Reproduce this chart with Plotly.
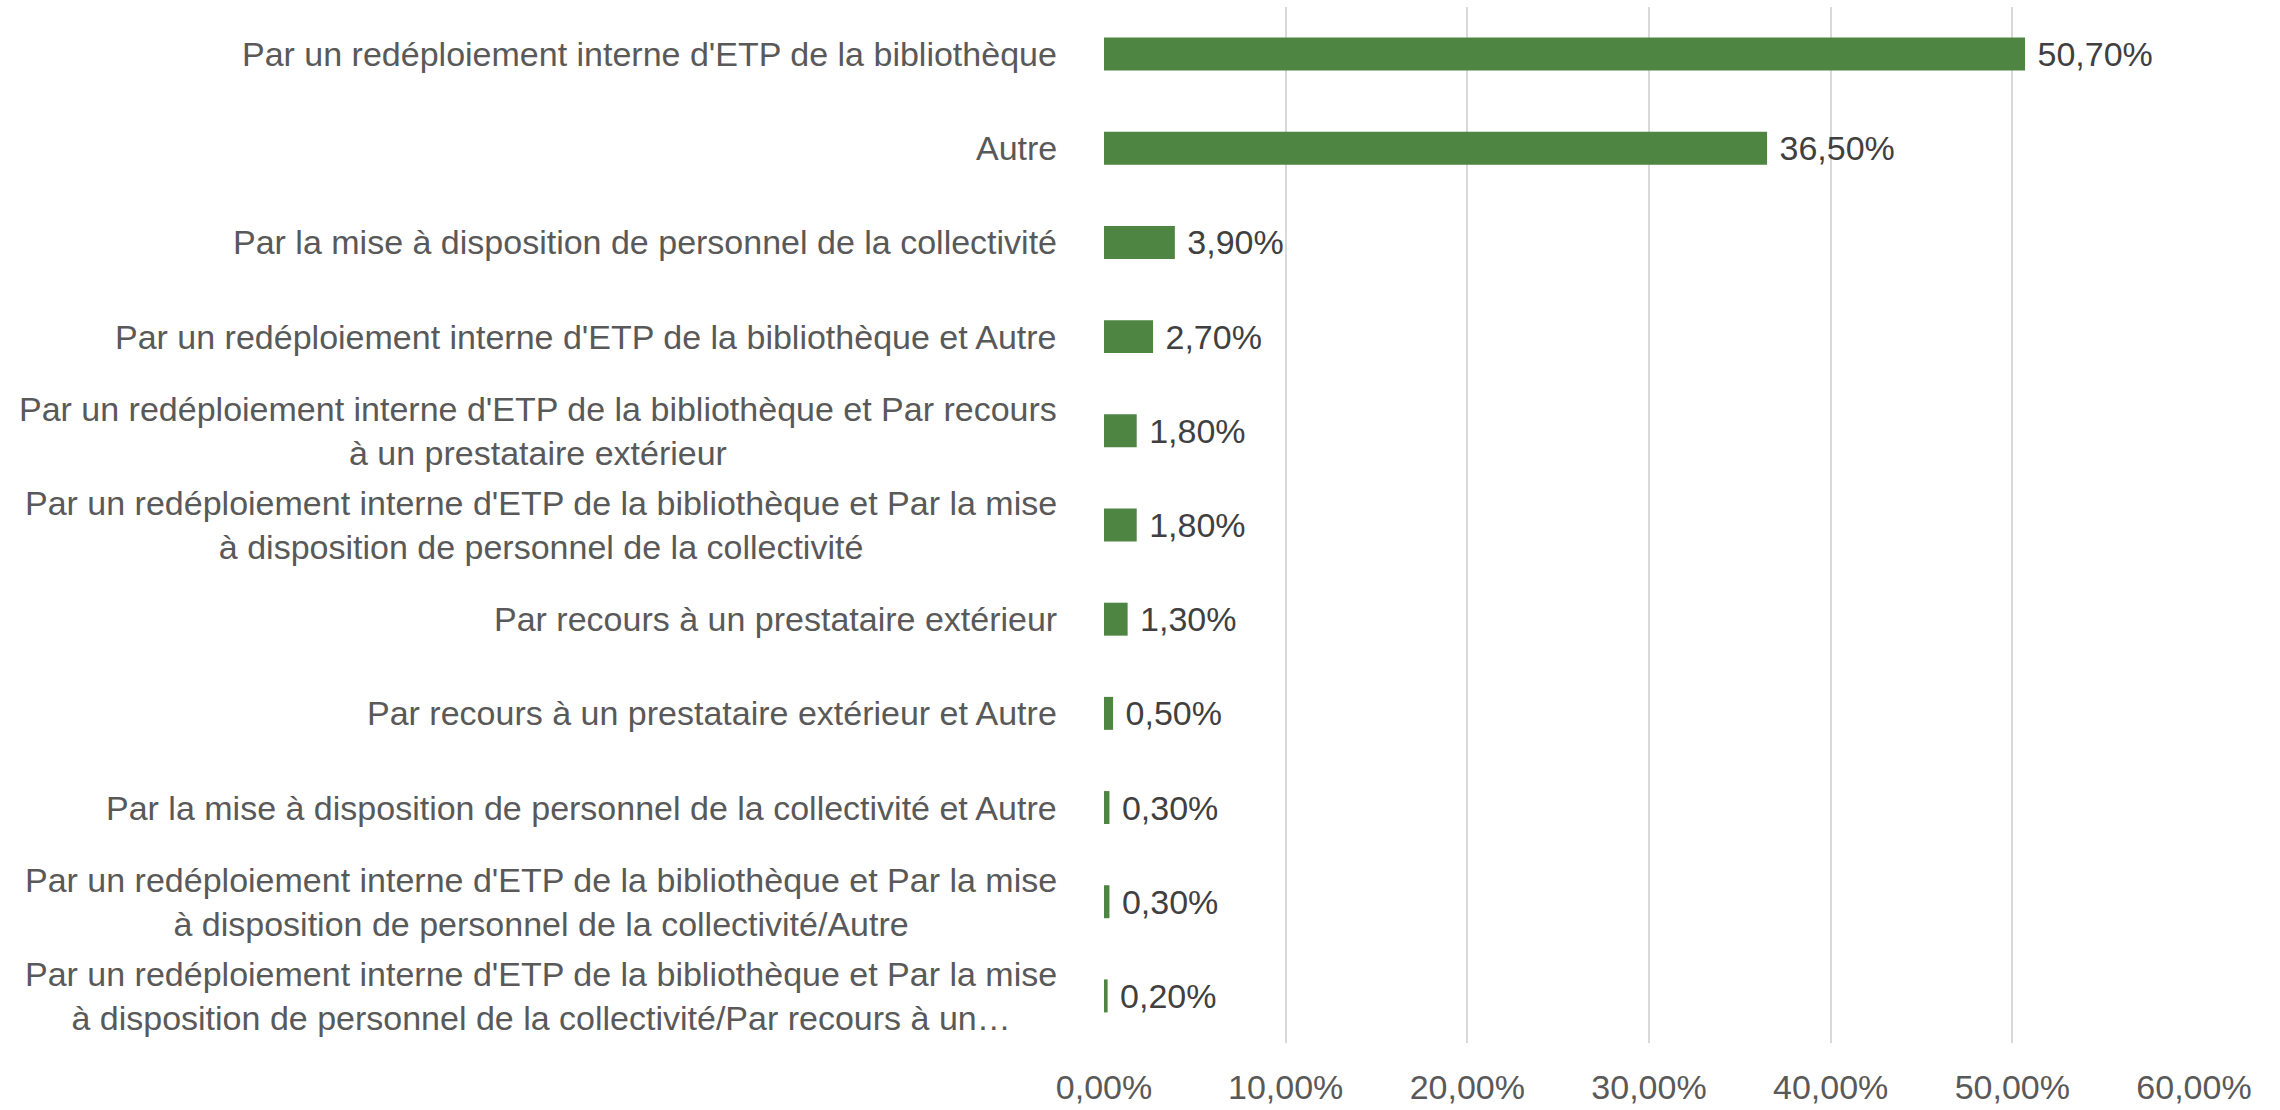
import plotly.graph_objects as go

categories = [
    "Par un redéploiement interne d'ETP de la bibliothèque",
    "Autre",
    "Par la mise à disposition de personnel de la collectivité",
    "Par un redéploiement interne d'ETP de la bibliothèque et Autre",
    "Par un redéploiement interne d'ETP de la bibliothèque et Par recours<br>à un prestataire extérieur",
    "Par un redéploiement interne d'ETP de la bibliothèque et Par la mise<br>à disposition de personnel de la collectivité",
    "Par recours à un prestataire extérieur",
    "Par recours à un prestataire extérieur et Autre",
    "Par la mise à disposition de personnel de la collectivité et Autre",
    "Par un redéploiement interne d'ETP de la bibliothèque et Par la mise<br>à disposition de personnel de la collectivité/Autre",
    "Par un redéploiement interne d'ETP de la bibliothèque et Par la mise<br>à disposition de personnel de la collectivité/Par recours à un…",
]
values = [0.507, 0.365, 0.039, 0.027, 0.018, 0.018, 0.013, 0.005, 0.003, 0.003, 0.002]
x_ticks = [0.0, 0.1, 0.2, 0.3, 0.4, 0.5, 0.6]

FONT = "Liberation Sans Narrow, Arial Narrow, Liberation Sans, sans-serif"
FS = 34
ids = list(range(len(categories)))

fig = go.Figure()
fig.add_trace(go.Bar(
    y=ids, x=values, orientation="h",
    marker=dict(color="#4E8542", line=dict(width=0)),
    texttemplate="\u00a0%{x:.2%}", textposition="outside",
    constraintext="none",
    textfont=dict(family=FONT, size=FS, color="#404040"),
    cliponaxis=False, width=0.35,
))

for i, c in zip(ids, categories):
    fig.add_annotation(
        x=0, xref="paper", xshift=-45, xanchor="right",
        y=i, yref="y", yanchor="middle",
        text=c, showarrow=False, align="center",
        font=dict(family=FONT, size=FS, color="#595959"),
    )

fig.update_layout(
    width=2280, height=1110,
    margin=dict(l=1104, r=86, t=7, b=67),
    plot_bgcolor="white", paper_bgcolor="white",
    separators=", ",
    showlegend=False,
    xaxis=dict(
        range=[0, 0.6], tickvals=x_ticks, tickformat=".2%",
        showgrid=True, gridcolor="#D9D9D9", gridwidth=1.5,
        zeroline=False, showline=False, ticks="",
        tickfont=dict(family=FONT, size=FS, color="#595959"),
        ticklabelstandoff=21, automargin=False,
    ),
    yaxis=dict(
        range=[len(categories) - 0.5, -0.5],
        showticklabels=False, showgrid=False, zeroline=False, ticks="",
        automargin=False,
    ),
)

fig.write_html(
    "out.html",
    config={"displayModeBar": False},
    post_script="document.body.style.margin='0';document.body.style.overflow='hidden';",
)
